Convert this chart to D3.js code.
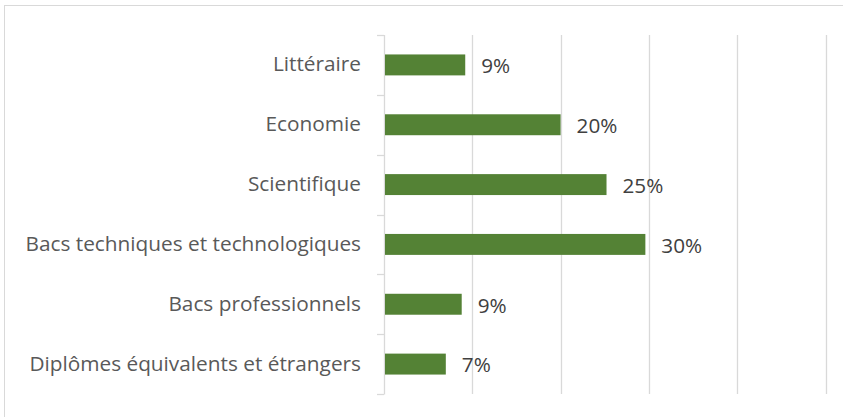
<!DOCTYPE html>
<html><head><meta charset="utf-8">
<script src="https://cdn.jsdelivr.net/npm/d3@7"></script>
<style>body{margin:0;background:#fff}svg{display:block}</style>
</head><body>
<script>
const categories = ["Littéraire","Economie","Scientifique","Bacs techniques et technologiques","Bacs professionnels","Diplômes équivalents et étrangers"];
const values = [0.092, 0.20, 0.252, 0.296, 0.088, 0.070];
const labels = ["9%","20%","25%","30%","9%","7%"];
const xTicks = [0,0.1,0.2,0.3,0.4,0.5];

const W=843,H=417;
const svg=d3.select("body").append("svg").attr("width",W).attr("height",H);
svg.append("rect").attr("x",4.5).attr("y",5.5).attr("width",W).attr("height",H).attr("fill","#fff").attr("stroke","#d9d9d9").attr("stroke-width",1);

const x=d3.scaleLinear().domain([0,0.5]).range([384,825.5]);
const y=d3.scaleBand().domain(categories).range([35,394]).paddingInner(0.65).paddingOuter(0.325);
const yb=d3.scaleBand().domain(categories).range([35,394]);

svg.append("g").selectAll("line").data(xTicks.slice(1)).join("line")
 .attr("x1",d=>Math.round(x(d))+0.5).attr("x2",d=>Math.round(x(d))+0.5)
 .attr("y1",35).attr("y2",394).attr("stroke","#d9d9d9").attr("stroke-width",1.3);

const ax=svg.append("g");
ax.append("line").attr("x1",384.5).attr("x2",384.5).attr("y1",35).attr("y2",394.5).attr("stroke","#d9d9d9").attr("stroke-width",1.3);
const tickYs=categories.map(c=>yb(c)).concat([394]);
ax.selectAll("line.t").data(tickYs).join("line").attr("class","t")
 .attr("x1",377).attr("x2",384).attr("y1",d=>Math.round(d)+0.5).attr("y2",d=>Math.round(d)+0.5).attr("stroke","#d9d9d9").attr("stroke-width",1.3);

svg.append("g").selectAll("rect").data(categories).join("rect")
 .attr("x",x(0)+1).attr("y",d=>y(d)).attr("height",y.bandwidth())
 .attr("width",(d,i)=>x(values[i])-x(0)-1).attr("fill","#548235");

svg.append("g").selectAll("text").data(categories).join("text")
 .attr("x",361).attr("y",d=>yb(d)+yb.bandwidth()/2-1).attr("dy","0.357em")
 .attr("text-anchor","end").attr("font-family","Open Sans").attr("font-size",20.8).attr("fill","#595959")
 .text(d=>d);

svg.append("g").selectAll("text").data(categories).join("text")
 .attr("x",(d,i)=>x(values[i])+16).attr("y",d=>yb(d)+yb.bandwidth()/2+1).attr("dy","0.357em")
 .attr("font-family","Open Sans").attr("font-size",20.7).attr("fill","#404040")
 .text((d,i)=>labels[i]);
</script>
</body></html>
